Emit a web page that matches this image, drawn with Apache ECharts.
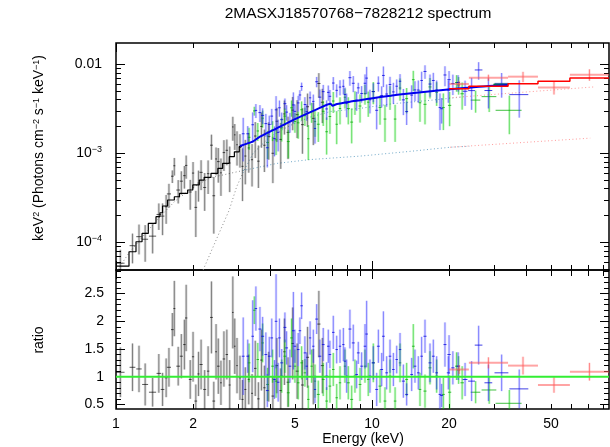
<!DOCTYPE html>
<html><head><meta charset="utf-8">
<script src="https://cdn.jsdelivr.net/npm/echarts/dist/echarts.min.js"></script>
<style>html,body{margin:0;padding:0;background:#fff}#c{width:610px;height:447px}</style>
</head><body><div id="c"></div>
<script>
// ---------- tick values ----------
const xMajorTicks = [1, 10];
const xMinorTicks = [2,3,4,5,6,7,8,9,20,30,40,50,60,70,80];
const xTickLabels = [1, 2, 5, 10, 20, 50];
const yTopMajorTicks = [1e-4, 1e-3, 1e-2];
const yTopMinorTicks = [5e-5,6e-5,7e-5,8e-5,9e-5,2e-4,3e-4,4e-4,5e-4,6e-4,7e-4,8e-4,9e-4,2e-3,3e-3,4e-3,5e-3,6e-3,7e-3,8e-3,9e-3];
const yBotMajorTicks = [0.5, 1, 1.5, 2, 2.5];
const yBotMinorTicks = [0.5,0.6,0.7,0.8,0.9,1.0,1.1,1.2,1.3,1.4,1.5,1.6,1.7,1.8,1.9,2.0,2.1,2.2,2.3,2.4,2.5,2.6,2.7,2.8,2.9];

// ---------- models (energy keV, keV^2 flux) ----------
const blackModel = [[1.0,5.4e-5],[1.124,7.84e-5],[1.197,1.016e-4],[1.264,1.26e-4],[1.337,1.63e-4],[1.433,1.94e-4],[1.485,2.15e-4],[1.52,2.56e-4],[1.59,2.99e-4],[1.69,3.25e-4],[1.77,3.55e-4],[1.905,3.87e-4],[1.995,4.41e-4],[2.115,5.01e-4],[2.21,5.37e-4],[2.35,5.96e-4],[2.50,6.78e-4],[2.61,7.72e-4],[2.77,9.16e-4],[2.90,1.04e-3],[3.03,1.19e-3],[3.10,1.19e-3]];
const blueModel = [[3.05,1.21e-3],[3.43,1.36e-3],[3.65,1.54e-3],[4.24,1.91e-3],[5.08,2.47e-3],[6.08,3.12e-3],[6.9,3.6e-3],[7.0,3.42e-3],[7.3,3.58e-3],[8.2,3.8e-3],[8.98,3.95e-3],[11.0,4.33e-3],[14.9,4.8e-3],[20.2,5.24e-3],[24.5,5.5e-3],[28.5,5.7e-3],[34.0,5.85e-3]];
const greenModel = [[29.8,5.9e-3],[34.0,5.9e-3]];
const redModel = [[20.0,5.32e-3],[23.9,5.66e-3],[34.0,6.05e-3],[44.5,6.44e-3],[59.3,7.02e-3],[84.3,7.02e-3]];

// dotted model components
const absBlack = [[2.19,4.9e-5],[2.46,1.06e-4],[2.77,2.31e-4],[2.96,4.21e-4],[3.13,6.0e-4]];
const absBlue = [[3.13,6.0e-4],[3.43,1.0e-3],[4.0,1.54e-3],[4.78,2.05e-3],[5.72,2.55e-3],[6.9,2.95e-3],[9.0,3.2e-3],[12.0,3.6e-3],[16.9,3.94e-3],[22.7,4.3e-3]];
const absRed = [[20.0,4.2e-3],[40.2,4.89e-3],[73.2,5.56e-3]];
const scatBlack = [[1.0,4.6e-5],[1.12,7.5e-5],[1.3,1.25e-4],[1.5,2.0e-4],[1.7,2.9e-4],[1.9,3.7e-4],[2.1,4.5e-4],[2.33,5.3e-4],[2.97,6.2e-4],[3.13,6.4e-4]];
const scatBlue = [[3.13,6.4e-4],[4.25,7.7e-4],[5.72,8.5e-4],[8.98,9.3e-4],[14.0,1.05e-3],[20.2,1.17e-3],[24.0,1.2e-3]];
const scatRed = [[20.2,1.17e-3],[40.0,1.33e-3],[71.2,1.48e-3]];

// ---------- data: energy, half width, ratio, ratio error ----------
const blackE = [1.04,1.16,1.23,1.30,1.39,1.47,1.52,1.57,1.61,1.66,1.69,1.75,1.80,1.85,1.88,1.95,2.00,2.05,2.10,2.15,2.22,2.29,2.36,2.41,2.46,2.51,2.57,2.64,2.71,2.78,2.86,2.91,2.97,3.05,3.12,3.20,3.30,3.40,3.50,3.60,3.70,3.80,3.95,4.10,4.25,4.40,4.55,4.70,4.90,5.10,5.35,5.60,5.90,6.20,6.40];
const blackDE = [.04,.03,.03,.035,.045,.03,.025,.02,.03,.02,.015,.03,.025,.02,.02,.025,.02,.025,.02,.03,.03,.025,.03,.03,.02,.03,.02,.03,.03,.025,.02,.02,.02,.03,.03,.03,.03,.03,.04,.04,.04,.04,.05,.05,.05,.05,.05,.06,.06,.07,.07,.08,.08,.09,.09];
const blackR = [1.08,1.17,1.14,0.86,0.72,1.06,0.77,0.98,1.17,1.85,2.23,1.19,1.37,1.58,2.06,0.95,1.36,0.56,1.05,1.22,0.77,1.10,2.07,0.56,1.45,1.19,0.89,1.32,1.40,0.85,2.16,1.55,1.20,0.98,0.59,0.77,0.95,0.70,1.15,0.60,1.30,0.80,1.00,0.65,1.20,0.75,1.45,0.90,1.60,1.10,0.85,1.35,1.00,1.95,1.20];
const blackErr = [.45,.43,.42,.38,.26,.35,.30,.35,.35,.30,.50,.35,.40,.45,.60,.35,.45,.30,.40,.45,.35,.45,.65,.35,.50,.50,.40,.50,.45,.45,.65,.50,.50,.40,.35,.40,.45,.35,.50,.30,.55,.40,.45,.35,.50,.40,.60,.45,.65,.50,.45,.55,.50,.60,.50];

const blueE = [3.14,3.27,3.42,3.52,3.65,3.74,3.85,3.90,3.97,4.06,4.16,4.22,4.30,4.35,
 4.44,4.57,4.64,4.78,4.93,5.00,5.15,5.23,5.31,5.47,5.56,5.73,5.90,5.99,6.08,6.26,6.45,6.65,6.75,6.85,7.06,7.28,7.50,7.73,7.84,7.96,8.20,8.45,8.71,8.84,9.11,9.39,9.53,9.82,10.12,10.43,10.59,10.91,11.08,11.41,11.76,12.12,12.49,12.87,13.26,13.66,14.29,14.72,15.17,15.63,16.11,16.85,17.36,17.89,18.43,
 18.71,19.28,19.87,20.0,20.7,21.7,23.1,24.5,26.1,28.5,32.1,37.6];
const blueDE = [.04,.04,.04,.04,.05,.05,.05,.05,.05,.05,.05,.05,.05,.05,
 .06,.06,.06,.06,.06,.06,.06,.06,.06,.06,.06,.06,.06,.06,.08,.08,.08,.08,.08,.08,.08,.08,.08,.08,.08,.08,.11,.11,.11,.11,.11,.11,.11,.11,.14,.14,.14,.14,.14,.14,.14,.14,.14,.14,.18,.18,.18,.18,.18,.18,.22,.22,.22,.22,.22,
 .25,.26,.27,.3,.3,.35,.5,.75,.9,1.0,2.0,3.2];
const blueR = [1.37,1.37,1.73,2.23,1.86,1.73,1.40,0.75,1.37,1.70,0.95,2.00,0.90,1.70,
 1.25,1.89,1.52,1.19,1.83,1.55,1.49,1.83,2.28,1.43,1.19,1.70,1.55,0.77,2.04,1.37,1.58,1.01,1.55,1.40,1.80,1.49,1.55,1.58,1.28,1.01,1.86,1.61,1.04,1.43,1.19,1.55,1.77,1.01,1.25,0.77,1.55,1.13,1.73,1.07,1.37,1.13,1.31,1.49,0.92,0.68,1.04,1.19,1.07,1.37,1.73,1.25,1.37,1.07,0.68,
 0.66,1.58,1.07,1.40,1.16,1.19,0.95,0.92,1.57,0.89,1.07,0.78];
const blueErr = [.70,.30,.65,.40,.40,.35,.40,.30,.35,.35,.35,.85,.35,.35,
 .25,.27,.30,.30,.70,.30,.30,.24,.24,.30,.25,.30,.30,.25,.27,.30,.30,.25,.30,.25,.30,.25,.30,.30,.25,.30,.35,.33,.25,.20,.25,.40,.60,.30,.30,.30,.30,.30,.45,.30,.30,.30,.25,.30,.30,.20,.30,.30,.30,.35,.30,.35,.30,.30,.30,
 .21,.40,.30,.35,.30,.25,.30,.36,.35,.33,.33,.35];

const greenE = [3.31,3.47,3.58,3.74,3.91,4.09,4.22,
 4.44,4.57,4.71,4.85,5.00,5.15,5.31,5.47,5.64,5.81,5.99,6.17,6.45,6.65,6.85,7.06,7.28,7.50,7.84,8.08,8.33,8.58,8.98,9.39,9.67,10.12,10.75,11.24,11.76,12.31,12.87,13.66,14.50,15.40,16.11,16.85,17.89,19.00,
 20.1,21.4,21.8,22.5,25.4,28.7,34.4];
const greenDE = [.04,.04,.04,.04,.05,.05,.05,
 .06,.06,.06,.06,.06,.06,.06,.06,.06,.06,.06,.08,.08,.08,.08,.08,.08,.08,.08,.11,.11,.11,.11,.11,.11,.14,.14,.14,.14,.14,.14,.18,.18,.18,.22,.22,.22,.25,
 .3,.3,.3,.35,1.1,1.9,4.0];
const greenR = [1.25,2.20,1.31,1.61,0.86,1.19,0.92,
 1.01,1.37,0.71,1.70,1.19,0.89,1.25,1.07,0.59,1.19,0.92,0.68,0.95,0.56,0.83,1.13,0.62,0.89,1.19,0.89,0.59,1.01,0.86,1.19,0.95,1.25,0.83,0.56,1.01,0.56,1.25,0.95,1.55,0.77,0.74,1.16,1.01,0.68,
 0.72,1.19,1.12,0.89,0.72,0.76,0.52];
const greenErr = [.35,.25,.30,.35,.30,.30,.30,
 .30,.30,.25,.35,.30,.30,.30,.25,.25,.30,.30,.25,.30,.25,.30,.30,.25,.30,.30,.30,.25,.30,.30,.30,.30,.35,.30,.25,.30,.25,.35,.30,.40,.30,.30,.30,.30,.30,
 .30,.25,.25,.30,.20,.25,.24];

const redE = [21.9, 28.5, 38.9, 51.4, 70.7];
const redLo = [20.0, 23.9, 34.0, 44.5, 59.3];
const redHi = [23.9, 34.0, 44.5, 59.3, 84.3];
const redR = [1.13, 1.25, 1.20, 0.85, 1.09];
const redErr = [0.08, 0.10, 0.16, 0.14, 0.16];

// ---------- build ----------
function stepAt(model, e) { let v = model[0][1]; for (const p of model) { if (p[0] <= e) v = p[1]; } return v; }
function lowModel(e) { return e < 3.1 ? stepAt(blackModel, e) : stepAt(blueModel, e); }
function redModelAt(e) { return stepAt(redModel, e); }
function build(E, lo, hi, R, Er, mfn) {
  const top = [], bot = [];
  for (let i = 0; i < E.length; i++) {
    const m = mfn(E[i]);
    top.push([E[i], lo[i], hi[i], m * R[i], Math.max(m * (R[i] - Er[i]), 1e-7), m * (R[i] + Er[i])]);
    bot.push([E[i], lo[i], hi[i], R[i], R[i] - Er[i], R[i] + Er[i]]);
  }
  return { top, bot };
}
const sub = (E, D) => E.map((e, i) => e - D[i]);
const add = (E, D) => E.map((e, i) => e + D[i]);
const dBlack = build(blackE, sub(blackE, blackDE), add(blackE, blackDE), blackR, blackErr, lowModel);
const dBlue = build(blueE, sub(blueE, blueDE), add(blueE, blueDE), blueR, blueErr, lowModel);
const dGreen = build(greenE, sub(greenE, greenDE), add(greenE, greenDE), greenR, greenErr, lowModel);
const dRed = build(redE, redLo, redHi, redR, redErr, redModelAt);

const FONT = 'Liberation Sans, Arial, Helvetica, sans-serif';
const X_MIN = 1, X_MAX = 84.3;
const YT_MIN = 4.89e-5, YT_MAX = 0.01734;
const YB_MIN = 0.417, YB_MAX = 2.926;

function crossRender(halo, core, hColor, hw) {
  return function (params, api) {
    const e = api.value(0), lo = api.value(1), hi = api.value(2), v = api.value(3), vl = api.value(4), vh = api.value(5);
    const a = api.coord([lo, v]), b = api.coord([hi, v]), c = api.coord([e, vl]), d = api.coord([e, vh]);
    return { type: 'group', children: [
      { type: 'line', shape: { x1: c[0], y1: c[1], x2: d[0], y2: d[1] }, style: { stroke: halo, lineWidth: 2.6 } },
      { type: 'line', shape: { x1: c[0], y1: c[1], x2: d[0], y2: d[1] }, style: { stroke: core, lineWidth: 1 } },
      { type: 'line', shape: { x1: a[0], y1: a[1], x2: b[0], y2: b[1] }, style: { stroke: hColor, lineWidth: hw } }
    ] };
  };
}
function crossSeries(data, xi, yi, halo, core, hColor, hw, z) {
  return { type: 'custom', xAxisIndex: xi, yAxisIndex: yi, data: data, clip: true, z: z,
    encode: { x: 0, y: 3 }, renderItem: crossRender(halo, core, hColor, hw), silent: true };
}

function xAx(grid, pos, ticks, len, labels) {
  return { type: 'log', logBase: 10, gridIndex: grid, position: pos, min: X_MIN, max: X_MAX,
    axisLine: { show: false }, splitLine: { show: false },
    axisTick: { show: true, inside: true, length: len, customValues: ticks, lineStyle: { color: '#000', width: 1 } },
    axisLabel: labels ? { show: true, customValues: labels, margin: 8, color: '#000', fontSize: 14, fontFamily: FONT,
      formatter: v => String(Math.round(v)) } : { show: false } };
}
function yAx(grid, pos, type, mn, mx, ticks, len, labelCfg) {
  const o = { type: type, gridIndex: grid, position: pos, min: mn, max: mx,
    axisLine: { show: false }, splitLine: { show: false },
    axisTick: { show: true, inside: true, length: len, customValues: ticks, lineStyle: { color: '#000', width: 1 } },
    axisLabel: labelCfg || { show: false } };
  if (type === 'log') o.logBase = 10;
  return o;
}
const topLabel = { show: true, customValues: yTopMajorTicks, margin: 14, color: '#000', fontFamily: FONT,
  formatter: function (v) { if (v > 0.005) return '{n|0.01}'; const e = Math.round(Math.log10(v)); return '{n|10}{s|\u2212' + (-e) + '}'; },
  rich: { n: { fontSize: 14, fontFamily: FONT, color: '#000', lineHeight: 16 }, s: { fontSize: 9, fontFamily: FONT, color: '#000', verticalAlign: 'top', lineHeight: 9 } } };
const botLabel = { show: true, customValues: yBotMajorTicks, margin: 12, color: '#000', fontSize: 14, fontFamily: FONT,
  formatter: v => String(Math.round(v * 10) / 10) };

const dotted = (data, color, z) => ({ type: 'line', xAxisIndex: 0, yAxisIndex: 0, data: data, showSymbol: false, symbol: 'none',
  lineStyle: { color: color, width: 1, type: [1, 2.5] }, z: z, silent: true, clip: true });

const BLACK = ['rgba(0,0,0,0.16)', 'rgba(0,0,0,0.4)', 'rgba(0,0,0,0.65)'];
const GREEN = ['rgba(0,220,0,0.18)', 'rgba(0,200,0,0.5)', 'rgba(0,170,0,0.75)'];
const BLUE = ['rgba(60,60,255,0.16)', 'rgba(30,30,255,0.5)', 'rgba(0,0,220,0.75)'];
const RED = ['rgba(255,80,80,0.18)', 'rgba(255,60,60,0.55)', 'rgba(255,90,90,0.55)'];

const option = {
  animation: false,
  backgroundColor: '#fff',
  grid: [
    { left: 116, top: 43, width: 493, height: 227, show: true, borderColor: '#000', borderWidth: 1.5, backgroundColor: 'transparent' },
    { left: 116, top: 270, width: 493, height: 139, show: true, borderColor: '#000', borderWidth: 1.5, backgroundColor: 'transparent' }
  ],
  xAxis: [
    xAx(0, 'bottom', xMajorTicks, 9), xAx(0, 'bottom', xMinorTicks, 5),
    xAx(0, 'top', xMajorTicks, 9), xAx(0, 'top', xMinorTicks, 5),
    xAx(1, 'bottom', xMajorTicks, 9, xTickLabels), xAx(1, 'bottom', xMinorTicks, 5),
    xAx(1, 'top', xMajorTicks, 9), xAx(1, 'top', xMinorTicks, 6)
  ],
  yAxis: [
    yAx(0, 'left', 'log', YT_MIN, YT_MAX, yTopMajorTicks, 9, topLabel), yAx(0, 'left', 'log', YT_MIN, YT_MAX, yTopMinorTicks, 5),
    yAx(0, 'right', 'log', YT_MIN, YT_MAX, yTopMajorTicks, 9), yAx(0, 'right', 'log', YT_MIN, YT_MAX, yTopMinorTicks, 5),
    yAx(1, 'left', 'value', YB_MIN, YB_MAX, yBotMajorTicks, 9, botLabel), yAx(1, 'left', 'value', YB_MIN, YB_MAX, yBotMinorTicks, 5),
    yAx(1, 'right', 'value', YB_MIN, YB_MAX, yBotMajorTicks, 9), yAx(1, 'right', 'value', YB_MIN, YB_MAX, yBotMinorTicks, 5)
  ],
  series: [
    dotted(scatBlack, '#8a8a8a', 1), dotted(absBlack, '#8a8a8a', 1),
    dotted(scatBlue, '#6fa8c8', 1), dotted(absBlue, '#6fa8c8', 1),
    dotted(scatRed, '#ff9a9a', 1), dotted(absRed, '#ff9a9a', 1),
    crossSeries(dBlack.top, 0, 0, BLACK[0], BLACK[1], BLACK[2], 1, 2),
    crossSeries(dGreen.top, 0, 0, GREEN[0], GREEN[1], GREEN[2], 1, 3),
    crossSeries(dBlue.top, 0, 0, BLUE[0], BLUE[1], BLUE[2], 1, 4),
    crossSeries(dRed.top, 0, 0, RED[0], RED[1], RED[2], 2, 5),
    { type: 'line', xAxisIndex: 0, yAxisIndex: 0, data: blackModel, step: 'end', showSymbol: false, symbol: 'none',
      lineStyle: { color: '#000', width: 1.2 }, z: 6, clip: true, silent: true },
    { type: 'line', xAxisIndex: 0, yAxisIndex: 0, data: greenModel, showSymbol: false, symbol: 'none',
      lineStyle: { color: '#00b000', width: 2 }, z: 6, clip: true, silent: true },
    { type: 'line', xAxisIndex: 0, yAxisIndex: 0, data: blueModel, smooth: 0.2, showSymbol: false, symbol: 'none',
      lineStyle: { color: '#0000ee', width: 2 }, z: 7, clip: true, silent: true },
    { type: 'line', xAxisIndex: 0, yAxisIndex: 0, data: redModel, step: 'end', showSymbol: false, symbol: 'none',
      lineStyle: { color: '#ff0000', width: 1.5 }, z: 7, clip: true, silent: true },
    crossSeries(dBlack.bot, 4, 4, BLACK[0], BLACK[1], BLACK[2], 1, 2),
    crossSeries(dGreen.bot, 4, 4, GREEN[0], GREEN[1], GREEN[2], 1, 3),
    crossSeries(dBlue.bot, 4, 4, BLUE[0], BLUE[1], BLUE[2], 1, 4),
    crossSeries(dRed.bot, 4, 4, RED[0], RED[1], RED[2], 2, 5),
    { type: 'line', xAxisIndex: 4, yAxisIndex: 4, data: [[X_MIN, 1], [X_MAX, 1]], showSymbol: false, symbol: 'none',
      lineStyle: { color: '#33ee33', width: 2 }, z: 8, silent: true }
  ],
  graphic: [
    { type: 'text', x: 358, y: 14, style: { text: '2MASXJ18570768\u22127828212 spectrum', font: '15.5px ' + FONT, fill: '#000', textAlign: 'center', textVerticalAlign: 'middle' } },
    { type: 'text', x: 363, y: 439, style: { text: 'Energy (keV)', font: '14px ' + FONT, fill: '#000', textAlign: 'center', textVerticalAlign: 'middle' } },
    { type: 'text', x: 39, y: 340, rotation: Math.PI / 2, style: { text: 'ratio', font: '14px ' + FONT, fill: '#000', textAlign: 'center', textVerticalAlign: 'middle' } },
    { type: 'text', x: 39, y: 148, rotation: Math.PI / 2, style: {
      text: 'keV{s|2} (Photons cm{s|\u22122} s{s|\u22121} keV{s|\u22121})', font: '14px ' + FONT, fill: '#000', textAlign: 'center', textVerticalAlign: 'middle',
      rich: { s: { fontSize: 9, fontFamily: FONT, fill: '#000', verticalAlign: 'top', lineHeight: 9 } } } }
  ]
};
const chart = echarts.init(document.getElementById('c'), null, { renderer: 'canvas', width: 610, height: 447 });
chart.setOption(option);
</script></body></html>
